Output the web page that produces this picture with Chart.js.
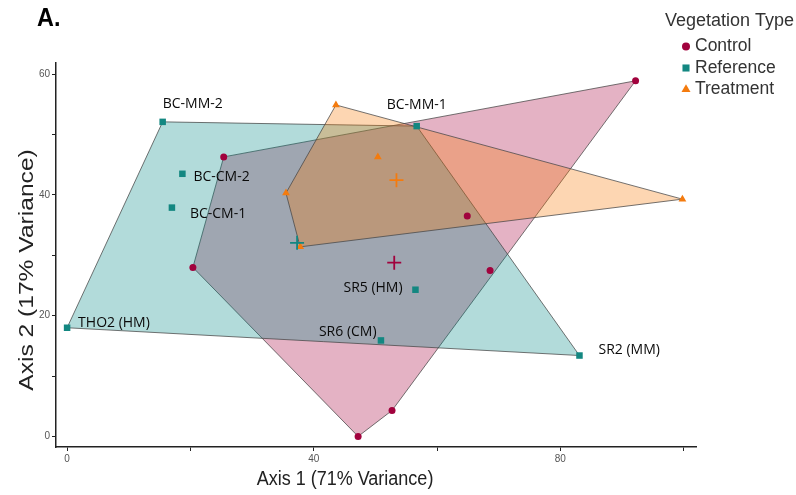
<!DOCTYPE html>
<html>
<head>
<meta charset="utf-8">
<script src="https://cdn.jsdelivr.net/npm/chart.js@4.4.1/dist/chart.umd.min.js"></script>
<style>
  html, body { margin: 0; padding: 0; background: #fff; overflow: hidden; }
  canvas { display: block; }
</style>
</head>
<body>
<canvas id="ordination" width="796" height="495"></canvas>
<script>
// Ordination scores (Axis 1, Axis 2) for each site, grouped by vegetation type
const controlX   = [92.2, 25.4, 20.4, 64.9, 68.6, 52.7, 47.2];
const controlY   = [58.9, 46.3, 28.0, 36.5, 27.5, 4.3, 0.0];

const referenceNames = ['BC-MM-2', 'BC-MM-1', 'BC-CM-2', 'BC-CM-1', 'THO2 (HM)', 'SR5 (HM)', 'SR6 (CM)', 'SR2 (MM)'];
const referenceX = [15.5, 56.7, 18.7, 17.0, 0.0, 56.5, 50.9, 83.1];
const referenceY = [52.1, 51.4, 43.5, 37.9, 18.0, 24.3, 15.9, 13.4];

const treatmentX = [43.6, 50.4, 35.5, 99.8, 37.8];
const treatmentY = [54.9, 46.3, 40.3, 39.3, 31.4];

const groupNames = ['Control', 'Reference', 'Treatment'];

const xTicks      = [0, 20, 40, 60, 80, 100];
const xTickLabels = ['0', '', '40', '', '80', ''];
const yTicks      = [0, 10, 20, 30, 40, 50, 60];
const yTickLabels = ['0', '', '20', '', '40', '', '60'];

// ---- styling ----
const markColors = ['#a1023d', '#138781', '#f47b0e'];
const fillColors = ['rgba(165,0,58,0.30)', 'rgba(0,135,132,0.30)', 'rgba(248,119,0,0.30)'];
const markStyles = ['circle', 'rect', 'triangle'];
const markRadius = [3.5, 4.6, 4.5];

function toPoints(xs, ys) { return xs.map((x, i) => ({ x: x, y: ys[i] })); }

// Convex hull (monotone chain), returned closed so the line ends where it starts
function hull(points) {
  const p = points.slice().sort((a, b) => a.x - b.x || a.y - b.y);
  const cross = (o, a, b) => (a.x - o.x) * (b.y - o.y) - (a.y - o.y) * (b.x - o.x);
  const lower = [], upper = [];
  for (const q of p) {
    while (lower.length >= 2 && cross(lower[lower.length - 2], lower[lower.length - 1], q) <= 0) lower.pop();
    lower.push(q);
  }
  for (let i = p.length - 1; i >= 0; i--) {
    const q = p[i];
    while (upper.length >= 2 && cross(upper[upper.length - 2], upper[upper.length - 1], q) <= 0) upper.pop();
    upper.push(q);
  }
  const h = lower.slice(0, -1).concat(upper.slice(0, -1));
  h.push(h[0]);
  return h;
}

function centroid(points) {
  const n = points.length;
  return [{
    x: points.reduce((s, q) => s + q.x, 0) / n,
    y: points.reduce((s, q) => s + q.y, 0) / n
  }];
}

const groups = [toPoints(controlX, controlY), toPoints(referenceX, referenceY), toPoints(treatmentX, treatmentY)];

const datasets = [];
// hulls: control at the bottom, treatment on top
groups.forEach((pts, g) => {
  datasets.push({
    label: groupNames[g] + ' hull',
    data: hull(pts),
    showLine: true,
    fill: 'shape',
    backgroundColor: fillColors[g],
    borderColor: 'rgba(70,70,70,0.75)',
    borderWidth: 1,
    pointRadius: 0,
    tension: 0,
    order: 20 - g
  });
});
groups.forEach((pts, g) => {
  datasets.push({
    label: groupNames[g],
    data: pts,
    pointStyle: markStyles[g],
    pointRadius: markRadius[g],
    pointBackgroundColor: markColors[g],
    pointBorderColor: markColors[g],
    pointBorderWidth: 0,
    showLine: false,
    order: 5 - g
  });
});
groups.forEach((pts, g) => {
  datasets.push({
    label: groupNames[g] + ' centroid',
    data: centroid(pts),
    pointStyle: 'cross',
    pointRadius: 7,
    pointBorderColor: markColors[g],
    pointBorderWidth: 1.8,
    showLine: false,
    order: 0
  });
});

// Site names beside the reference points: [dx to text start, dy to text middle]
const nameOffsets = [[0, -18], [-30, -21], [11, 3], [18, 6], [11, -5], [-72, -2], [-62, -8], [19, -6]];

const annotations = {
  id: 'annotations',
  afterDatasetsDraw(chart) {
    const ctx = chart.ctx;
    const xs = chart.scales.x, ys = chart.scales.y;
    ctx.save();

    // reference site names
    ctx.font = '14px "Open Sans"';
    ctx.fillStyle = '#0a0a0a';
    ctx.textAlign = 'left';
    ctx.textBaseline = 'middle';
    referenceNames.forEach((name, i) => {
      const px = xs.getPixelForValue(referenceX[i]);
      const py = ys.getPixelForValue(referenceY[i]);
      ctx.fillText(name, px + nameOffsets[i][0], py + nameOffsets[i][1]);
    });

    // panel letter
    ctx.save();
    ctx.translate(37, 19);
    ctx.scale(0.9, 1);
    ctx.font = 'bold 26px "Liberation Sans"';
    ctx.fillStyle = '#000';
    ctx.textBaseline = 'middle';
    ctx.fillText('A.', 0, 0);
    ctx.restore();

    // axis titles
    ctx.fillStyle = '#222';
    ctx.textAlign = 'center';
    ctx.textBaseline = 'middle';
    ctx.save();
    ctx.translate(345, 479);
    ctx.scale(0.9, 1);
    ctx.font = '20px "Liberation Sans"';
    ctx.fillText('Axis 1 (71% Variance)', 0, 0);
    ctx.restore();

    ctx.save();
    ctx.translate(27, 270);
    ctx.rotate(-Math.PI / 2);
    ctx.scale(1.2, 1);
    ctx.font = '20.5px "Liberation Sans"';
    ctx.fillText('Axis 2 (17% Variance)', 0, 0);
    ctx.restore();

    // legend
    ctx.textAlign = 'left';
    ctx.fillStyle = '#333';
    ctx.font = '18px "Liberation Sans"';
    ctx.fillText('Vegetation Type', 665, 21);
    ctx.font = '17.5px "Liberation Sans"';
    const rows = [46.5, 68, 89.5];
    groupNames.forEach((name, g) => {
      ctx.fillStyle = markColors[g];
      ctx.strokeStyle = markColors[g];
      Chart.helpers.drawPoint(ctx, { pointStyle: markStyles[g], radius: g === 0 ? 4 : (g === 1 ? 5 : 5.2), borderWidth: 0, rotation: 0 }, 686, rows[g]);
      ctx.fillStyle = '#333';
      ctx.fillText(name, 695, rows[g]);
    });

    ctx.restore();
  }
};

const axisLine = { display: true, color: '#222', width: 1.5 };
const tickMarks = { display: true, drawOnChartArea: false, drawTicks: true, tickLength: 4, color: '#222', lineWidth: 1 };
const tickFont = { family: '"Liberation Sans"', size: 10 };

new Chart(document.getElementById('ordination'), {
  type: 'scatter',
  data: { datasets: datasets },
  options: {
    responsive: false,
    animation: false,
    devicePixelRatio: 1,
    layout: { padding: { left: 0, right: 100, top: 63, bottom: 0 } },
    plugins: { legend: { display: false }, tooltip: { enabled: false } },
    scales: {
      x: {
        type: 'linear',
        min: -1.8,
        max: 102,
        border: axisLine,
        grid: tickMarks,
        afterBuildTicks(s) { s.ticks = xTicks.map(v => ({ value: v })); },
        afterFit(s) { s.height = 48; },
        ticks: {
          color: '#555',
          font: tickFont,
          padding: 2,
          maxRotation: 0,
          autoSkip: false,
          callback: (v) => { const i = xTicks.indexOf(v); return i < 0 ? '' : xTickLabels[i]; }
        }
      },
      y: {
        type: 'linear',
        min: -1.75,
        max: 61.85,
        border: axisLine,
        grid: tickMarks,
        afterBuildTicks(s) { s.ticks = yTicks.map(v => ({ value: v })); },
        afterFit(s) { s.width = 56; },
        ticks: {
          color: '#555',
          font: tickFont,
          padding: 2,
          autoSkip: false,
          callback: (v) => { const i = yTicks.indexOf(v); return i < 0 ? '' : yTickLabels[i]; }
        }
      }
    }
  },
  plugins: [annotations]
});
</script>
</body>
</html>
